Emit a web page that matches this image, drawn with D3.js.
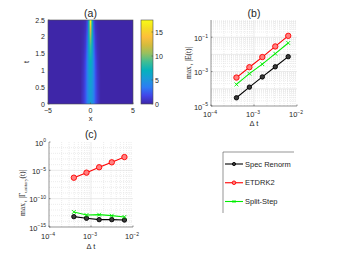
<!DOCTYPE html>
<html><head><meta charset="utf-8">
<script src="https://cdn.jsdelivr.net/npm/d3@7"></script>
<style>
body{margin:0;background:#fff}
svg{display:block}
text{font-family:"Liberation Sans",Arial,sans-serif;fill:#262626}
</style>
</head><body>
<svg id="chart" width="344" height="258"></svg>
<script>
// ---------------- data ----------------
const dtVals = [3.90625e-4, 7.8125e-4, 1.5625e-3, 3.125e-3, 6.25e-3];
const seriesNames = ["Spec Renorm", "ETDRK2", "Split-Step"];
// panel (b): max_t |E(t)|
const errSpec  = [3.0e-5, 1.25e-4, 4.9e-4, 1.9e-3, 7.4e-3];
const errETD   = [4.5e-4, 1.8e-3, 7.0e-3, 2.9e-2, 1.2e-1];
const errSplit = [1.8e-4, 7.6e-4, 2.7e-3, 1.1e-2, 4.6e-2];
// panel (c): max_t |Gamma(t)|
const uniSpec  = [6.7e-14, 3.5e-14, 2.0e-14, 2.0e-14, 1.7e-14];
const uniETD   = [5.0e-7, 3.9e-6, 3.5e-5, 2.6e-4, 2.2e-3];
const uniSplit = [4.5e-13, 1.3e-13, 1.5e-13, 1.0e-13, 6.0e-14];
// panel (a): intensity map (rows = t, cols = x), zero elsewhere
const heatX = [-1.2,-1.0,-0.8,-0.6,-0.4,-0.2,0,0.2,0.4,0.6,0.8,1.0,1.2];
const heatT = [0,0.25,0.5,0.75,1.0,1.25,1.5,1.75,2.0,2.25,2.5];
const heatZ = [
 [0,0.6,1.2,2.2,3.5,4.8,5.4,4.8,3.5,2.2,1.2,0.6,0],
 [0,0.6,1.2,2.2,3.6,4.9,5.5,4.9,3.6,2.2,1.2,0.6,0],
 [0,0.5,1.1,2.2,3.6,5.0,5.7,5.0,3.6,2.2,1.1,0.5,0],
 [0,0.5,1.0,2.1,3.6,5.2,6.0,5.2,3.6,2.1,1.0,0.5,0],
 [0,0.4,0.9,2.0,3.6,5.5,6.4,5.5,3.6,2.0,0.9,0.4,0],
 [0,0.3,0.8,1.8,3.5,5.8,7.0,5.8,3.5,1.8,0.8,0.3,0],
 [0,0.3,0.6,1.5,3.3,6.2,7.8,6.2,3.3,1.5,0.6,0.3,0],
 [0,0.2,0.5,1.2,3.0,6.6,8.8,6.6,3.0,1.2,0.5,0.2,0],
 [0,0.2,0.4,1.0,2.6,7.0,10.5,7.0,2.6,1.0,0.4,0.2,0],
 [0,0.1,0.3,0.7,2.0,7.2,13.0,7.2,2.0,0.7,0.3,0.1,0],
 [0,0.1,0.2,0.5,1.5,7.0,17.5,7.0,1.5,0.5,0.2,0.1,0]
];
const xTicksA = [-5, 0, 5];
const yTicksA = [0, 0.5, 1, 1.5, 2, 2.5];
const cbTicks = [0, 5, 10, 15];
const xDecadesBC = [-4, -3, -2];
const yDecadesB = [-5, -3, -1];
const yDecadesC = [0, -5, -10, -15];

// ---------------- helpers ----------------
const svg = d3.select("#chart");
svg.append("rect").attr("width",344).attr("height",258).attr("fill","#fff");
const parulaStops = [0,0.1,0.2,0.3,0.4,0.5,0.6,0.7,0.8,0.9,1];
const parulaCols = ["#3e26a8","#4145e8","#2c7cf4","#1a9ad9","#05b1bd","#3ebd95","#95c060","#d4bb3d","#fdbf3a","#f5dc24","#f9fb15"];
const parula = d3.scaleLinear().domain(parulaStops).range(parulaCols).interpolate(d3.interpolateRgb).clamp(true);
const zMax = 17.5;
const axisCol = "#4d4d4d";

function supLabel(g, x, y, exp, anchor){
  const t = g.append("text").attr("x",x).attr("y",y).attr("text-anchor",anchor).attr("font-size",7.5);
  t.append("tspan").text("10");
  t.append("tspan").attr("font-size",5).attr("dy",-3.2).text(String(exp).replace("-","\u2212"));
  return t;
}

// ---------------- panel (a) ----------------
const ax = d3.scaleLinear().domain([-5,5]).range([48,133]);
const ay = d3.scaleLinear().domain([0,2.5]).range([104,20]);
const ga = svg.append("g");
ga.append("defs").append("clipPath").attr("id","clipA").append("rect")
  .attr("x",ax(-5)).attr("y",ay(2.5)).attr("width",ax(5)-ax(-5)).attr("height",ay(0)-ay(2.5));
ga.append("rect").attr("x",ax(-5)).attr("y",ay(2.5)).attr("width",ax(5)-ax(-5)).attr("height",ay(0)-ay(2.5))
  .attr("fill",parula(0));
const cv = document.createElement("canvas");
cv.width = heatX.length; cv.height = heatT.length;
const ctx = cv.getContext("2d");
const img = ctx.createImageData(cv.width, cv.height);
for(let r=0;r<heatT.length;r++){
  const row = heatZ[heatT.length-1-r];
  for(let c=0;c<heatX.length;c++){
    const col = d3.rgb(parula(row[c]/zMax));
    const k = (r*cv.width+c)*4;
    img.data[k]=col.r; img.data[k+1]=col.g; img.data[k+2]=col.b; img.data[k+3]=255;
  }
}
ctx.putImageData(img,0,0);
const dxh = heatX[1]-heatX[0], dth = heatT[1]-heatT[0];
ga.append("image").attr("href",cv.toDataURL())
  .attr("x",ax(heatX[0]-dxh/2)).attr("width",ax(heatX[heatX.length-1]+dxh/2)-ax(heatX[0]-dxh/2))
  .attr("y",ay(heatT[heatT.length-1]+dth/2)).attr("height",ay(heatT[0]-dth/2)-ay(heatT[heatT.length-1]+dth/2))
  .attr("preserveAspectRatio","none").attr("clip-path","url(#clipA)");
ga.append("rect").attr("x",ax(-5)).attr("y",ay(2.5)).attr("width",ax(5)-ax(-5)).attr("height",ay(0)-ay(2.5))
  .attr("fill","none").attr("stroke",axisCol).attr("stroke-width",0.6);
xTicksA.forEach(v=>{
  ga.append("line").attr("x1",ax(v)).attr("x2",ax(v)).attr("y1",ay(0)).attr("y2",ay(0)-1.5).attr("stroke",axisCol).attr("stroke-width",0.6);
  ga.append("text").attr("x",ax(v)).attr("y",113).attr("text-anchor","middle").attr("font-size",7).text(String(v).replace("-","\u2212"));
});
yTicksA.forEach(v=>{
  ga.append("line").attr("x1",ax(-5)).attr("x2",ax(-5)+1.5).attr("y1",ay(v)).attr("y2",ay(v)).attr("stroke",axisCol).attr("stroke-width",0.6);
  ga.append("text").attr("x",45).attr("y",ay(v)+2.5).attr("text-anchor","end").attr("font-size",7).text(v);
});
ga.append("text").attr("x",90.5).attr("y",121).attr("text-anchor","middle").attr("font-size",7.5).text("x");
ga.append("text").attr("transform","translate(29,62) rotate(-90)").attr("text-anchor","middle").attr("font-size",7.5).text("t");
ga.append("text").attr("x",90.5).attr("y",17).attr("text-anchor","middle").attr("font-size",10.5).text("(a)");
const cb = d3.scaleLinear().domain([0,zMax]).range([104,20]);
const grad = ga.append("defs").append("linearGradient").attr("id","cbg").attr("x1",0).attr("y1",1).attr("x2",0).attr("y2",0);
d3.range(0,1.0001,0.05).forEach(p=>grad.append("stop").attr("offset",p).attr("stop-color",parula(p)));
ga.append("rect").attr("x",141).attr("y",cb(zMax)).attr("width",12).attr("height",cb(0)-cb(zMax)).attr("fill","url(#cbg)")
  .attr("stroke",axisCol).attr("stroke-width",0.6);
cbTicks.forEach(v=>{
  ga.append("line").attr("x1",153).attr("x2",151.5).attr("y1",cb(v)).attr("y2",cb(v)).attr("stroke",axisCol).attr("stroke-width",0.6);
  ga.append("text").attr("x",155).attr("y",cb(v)+2.5).attr("font-size",7).text(v);
});

// ---------------- log panels ----------------
function logPanel(opts){
  const g = svg.append("g");
  const x = d3.scaleLog().domain([1e-4,1e-2]).range(opts.xr);
  const y = d3.scaleLog().domain(opts.yd).range(opts.yr);
  for(let d=-4; d<-2; d++){
    for(let m=2;m<=9;m++){
      const v = m*Math.pow(10,d);
      g.append("line").attr("x1",x(v)).attr("x2",x(v)).attr("y1",opts.yr[0]).attr("y2",opts.yr[1])
        .attr("stroke","#d9d9d9").attr("stroke-width",0.5).attr("stroke-dasharray","1,1");
    }
  }
  opts.yMinor.forEach(v=>{
    g.append("line").attr("x1",opts.xr[0]).attr("x2",opts.xr[1]).attr("y1",y(v)).attr("y2",y(v))
      .attr("stroke","#d9d9d9").attr("stroke-width",0.5).attr("stroke-dasharray","1,1");
  });
  g.append("line").attr("x1",x(1e-3)).attr("x2",x(1e-3)).attr("y1",opts.yr[0]).attr("y2",opts.yr[1]).attr("stroke","#dedede").attr("stroke-width",0.6);
  opts.yMajor.forEach(v=>{
    g.append("line").attr("x1",opts.xr[0]).attr("x2",opts.xr[1]).attr("y1",y(v)).attr("y2",y(v)).attr("stroke","#dedede").attr("stroke-width",0.6);
  });
  g.append("line").attr("x1",opts.xr[0]).attr("x2",opts.xr[0]).attr("y1",opts.yr[0]).attr("y2",opts.yr[1]).attr("stroke",axisCol).attr("stroke-width",0.6);
  g.append("line").attr("x1",opts.xr[0]).attr("x2",opts.xr[1]).attr("y1",opts.yr[0]).attr("y2",opts.yr[0]).attr("stroke",axisCol).attr("stroke-width",0.6);
  xDecadesBC.forEach(d=>{
    const v = Math.pow(10,d);
    g.append("line").attr("x1",x(v)).attr("x2",x(v)).attr("y1",opts.yr[0]).attr("y2",opts.yr[0]-1.5).attr("stroke",axisCol).attr("stroke-width",0.6);
    supLabel(g, x(v)-1, opts.xLabY, d, "middle");
  });
  opts.yTicks.forEach(d=>{
    const v = Math.pow(10,d);
    g.append("line").attr("x1",opts.xr[0]).attr("x2",opts.xr[0]+1.5).attr("y1",y(v)).attr("y2",y(v)).attr("stroke",axisCol).attr("stroke-width",0.6);
    supLabel(g, opts.xr[0]-3, y(v)+3.5, d, "end");
  });
  const line = d3.line().x((d,i)=>x(dtVals[i])).y(d=>y(d));
  const sers = [
    {vals:opts.s[0], col:"#000000", mk:"o", fill:"#3a3a3a", r:2.2},
    {vals:opts.s[1], col:"#ff0000", mk:"o", fill:"#ff8080", r:2.7},
    {vals:opts.s[2], col:"#00ee00", mk:"x", fill:"none", r:1.9}
  ];
  sers.forEach(s=>{
    g.append("path").attr("d",line(s.vals)).attr("fill","none").attr("stroke",s.col).attr("stroke-width",1.1);
    s.vals.forEach((v,i)=>drawMarker(g, x(dtVals[i]), y(v), s));
  });
  g.append("text").attr("x",(opts.xr[0]+opts.xr[1])/2).attr("y",opts.titleY).attr("text-anchor","middle").attr("font-size",10.5).text(opts.title);
  g.append("text").attr("x",(opts.xr[0]+opts.xr[1])/2).attr("y",opts.xTitleY).attr("text-anchor","middle").attr("font-size",7.5).text("\u0394 t");
  return g;
}
function drawMarker(g, cx, cy, s){
  if(s.mk==="o"){
    g.append("circle").attr("cx",cx).attr("cy",cy).attr("r",s.r).attr("fill",s.fill).attr("stroke",s.col).attr("stroke-width",0.9);
  } else {
    const r = s.r;
    g.append("path").attr("d",`M${cx-r},${cy-r}L${cx+r},${cy+r}M${cx-r},${cy+r}L${cx+r},${cy-r}`).attr("stroke",s.col).attr("stroke-width",0.9);
  }
}
function minorDecades(lo, hi){
  const out=[];
  for(let d=lo; d<hi; d++) for(let m=2;m<=9;m++) out.push(m*Math.pow(10,d));
  return out;
}

const gb = logPanel({
  xr:[211,297], yd:[1e-5,1], yr:[106,20],
  yMinor: minorDecades(-5,0), yMajor:[1e-4,1e-3,1e-2,1e-1],
  yTicks: yDecadesB, xLabY:117, titleY:17, xTitleY:126, title:"(b)",
  s:[errSpec, errETD, errSplit]
});
const yLabB = gb.append("text").attr("transform","translate(191,63) rotate(-90)").attr("text-anchor","middle")
  .attr("font-size",7.5).style("font-family","'Liberation Serif',serif");
yLabB.append("tspan").text("max");
yLabB.append("tspan").attr("font-size",5).attr("dy",1.5).text(" t");
yLabB.append("tspan").attr("dy",-1.5).text(" |E(t)|");

const yMinorC = d3.range(-14,0).filter(d=>d%5!==0).map(d=>Math.pow(10,d));
const gc = logPanel({
  xr:[49,133], yd:[1e-15,1], yr:[227,142],
  yMinor: yMinorC, yMajor:[1e-5,1e-10],
  yTicks: yDecadesC, xLabY:239, titleY:138, xTitleY:249, title:"(c)",
  s:[uniSpec, uniETD, uniSplit]
});
const yLabC = gc.append("text").attr("transform","translate(25,193) rotate(-90)").attr("text-anchor","middle")
  .attr("font-size",7.5).style("font-family","'Liberation Serif',serif");
yLabC.append("tspan").text("max");
yLabC.append("tspan").attr("font-size",5).attr("dy",1.5).text(" t");
yLabC.append("tspan").attr("dy",-1.5).text(" |\u0393");
yLabC.append("tspan").attr("font-size",5).attr("dy",1.5).text("unitary");
yLabC.append("tspan").attr("dy",-1.5).text("(t)|");

// ---------------- legend ----------------
const gl = svg.append("g");
gl.append("line").attr("x1",223).attr("x2",294).attr("y1",152).attr("y2",152).attr("stroke",axisCol).attr("stroke-width",0.6);
gl.append("line").attr("x1",223).attr("x2",223).attr("y1",152).attr("y2",213).attr("stroke",axisCol).attr("stroke-width",0.6);
const legSty = [
  {col:"#000000", mk:"o", fill:"#3a3a3a", r:1.6},
  {col:"#ff0000", mk:"o", fill:"#ff8080", r:1.8},
  {col:"#00ee00", mk:"x", fill:"none", r:1.5}
];
const legY = d3.scalePoint().domain(seriesNames).range([164,201.5]);
seriesNames.forEach((n,i)=>{
  const yy = legY(n);
  gl.append("line").attr("x1",225).attr("x2",243).attr("y1",yy).attr("y2",yy).attr("stroke",legSty[i].col).attr("stroke-width",1.1);
  drawMarker(gl, 234, yy, legSty[i]);
  gl.append("text").attr("x",245).attr("y",yy+2.6).attr("font-size",7.5).text(n);
});
</script>
</body></html>
